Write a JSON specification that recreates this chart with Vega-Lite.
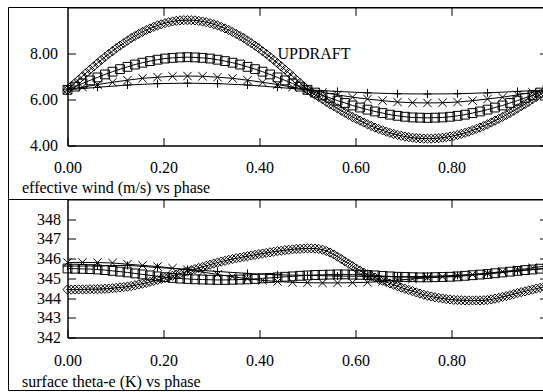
{
"$schema":"https://vega.github.io/schema/vega-lite/v6.json",
"padding":{"left":7.5,"top":6.5,"right":0,"bottom":0},
"background":"white",
"config":{"font":"Liberation Serif","view":{"stroke":"black","strokeWidth":1},
 "axis":{"labelFont":"Liberation Serif","labelFontSize":16,"labelColor":"black","tickColor":"black","domainColor":"black","grid":false,"labelFlush":false,"labelOverlap":false,"titleFont":"Liberation Serif","titleFontSize":16,"titleFontWeight":"normal","titleColor":"black","tickSize":-8,"domainWidth":1,"tickWidth":1}},
"spacing":54,
"bounds":"flush",
"datasets":{
"top":[
{"x":0,"y":6.42,"s":"D"},{"x":0.0078,"y":6.57,"s":"D"},{"x":0.0156,"y":6.72,"s":"D"},{"x":0.0234,"y":6.86,"s":"D"},{"x":0.0313,"y":7.01,"s":"D"},{"x":0.0391,"y":7.16,"s":"D"},{"x":0.0469,"y":7.3,"s":"D"},{"x":0.0547,"y":7.44,"s":"D"},{"x":0.0625,"y":7.58,"s":"D"},{"x":0.0703,"y":7.72,"s":"D"},{"x":0.0781,"y":7.85,"s":"D"},{"x":0.0859,"y":7.98,"s":"D"},{"x":0.0938,"y":8.1,"s":"D"},{"x":0.1016,"y":8.23,"s":"D"},{"x":0.1094,"y":8.34,"s":"D"},{"x":0.1172,"y":8.45,"s":"D"},{"x":0.125,"y":8.56,"s":"D"},{"x":0.1328,"y":8.67,"s":"D"},{"x":0.1406,"y":8.76,"s":"D"},{"x":0.1484,"y":8.85,"s":"D"},{"x":0.1563,"y":8.94,"s":"D"},{"x":0.1641,"y":9.02,"s":"D"},{"x":0.1719,"y":9.09,"s":"D"},{"x":0.1797,"y":9.16,"s":"D"},{"x":0.1875,"y":9.22,"s":"D"},{"x":0.1953,"y":9.27,"s":"D"},{"x":0.2031,"y":9.32,"s":"D"},{"x":0.2109,"y":9.36,"s":"D"},{"x":0.2188,"y":9.39,"s":"D"},{"x":0.2266,"y":9.42,"s":"D"},{"x":0.2344,"y":9.44,"s":"D"},{"x":0.2422,"y":9.45,"s":"D"},{"x":0.25,"y":9.45,"s":"D"},{"x":0.2578,"y":9.45,"s":"D"},{"x":0.2656,"y":9.44,"s":"D"},{"x":0.2734,"y":9.42,"s":"D"},{"x":0.2813,"y":9.39,"s":"D"},{"x":0.2891,"y":9.36,"s":"D"},{"x":0.2969,"y":9.32,"s":"D"},{"x":0.3047,"y":9.27,"s":"D"},{"x":0.3125,"y":9.22,"s":"D"},{"x":0.3203,"y":9.16,"s":"D"},{"x":0.3281,"y":9.09,"s":"D"},{"x":0.3359,"y":9.02,"s":"D"},{"x":0.3438,"y":8.94,"s":"D"},{"x":0.3516,"y":8.85,"s":"D"},{"x":0.3594,"y":8.76,"s":"D"},{"x":0.3672,"y":8.67,"s":"D"},{"x":0.375,"y":8.56,"s":"D"},{"x":0.3828,"y":8.45,"s":"D"},{"x":0.3906,"y":8.34,"s":"D"},{"x":0.3984,"y":8.23,"s":"D"},{"x":0.4063,"y":8.1,"s":"D"},{"x":0.4141,"y":7.98,"s":"D"},{"x":0.4219,"y":7.85,"s":"D"},{"x":0.4297,"y":7.72,"s":"D"},{"x":0.4375,"y":7.58,"s":"D"},{"x":0.4453,"y":7.44,"s":"D"},{"x":0.4531,"y":7.3,"s":"D"},{"x":0.4609,"y":7.16,"s":"D"},{"x":0.4688,"y":7.01,"s":"D"},{"x":0.4766,"y":6.86,"s":"D"},{"x":0.4844,"y":6.72,"s":"D"},{"x":0.4922,"y":6.57,"s":"D"},{"x":0.5,"y":6.42,"s":"D"},
{"x":0.5078,"y":6.32,"s":"D"},{"x":0.5156,"y":6.21,"s":"D"},{"x":0.5234,"y":6.11,"s":"D"},{"x":0.5313,"y":6.01,"s":"D"},{"x":0.5391,"y":5.9,"s":"D"},{"x":0.5469,"y":5.8,"s":"D"},{"x":0.5547,"y":5.71,"s":"D"},{"x":0.5625,"y":5.61,"s":"D"},{"x":0.5703,"y":5.51,"s":"D"},{"x":0.5781,"y":5.42,"s":"D"},{"x":0.5859,"y":5.33,"s":"D"},{"x":0.5938,"y":5.24,"s":"D"},{"x":0.6016,"y":5.16,"s":"D"},{"x":0.6094,"y":5.08,"s":"D"},{"x":0.6172,"y":5,"s":"D"},{"x":0.625,"y":4.92,"s":"D"},{"x":0.6328,"y":4.85,"s":"D"},{"x":0.6406,"y":4.78,"s":"D"},{"x":0.6484,"y":4.72,"s":"D"},{"x":0.6563,"y":4.66,"s":"D"},{"x":0.6641,"y":4.6,"s":"D"},{"x":0.6719,"y":4.55,"s":"D"},{"x":0.6797,"y":4.5,"s":"D"},{"x":0.6875,"y":4.46,"s":"D"},{"x":0.6953,"y":4.42,"s":"D"},{"x":0.7031,"y":4.39,"s":"D"},{"x":0.7109,"y":4.36,"s":"D"},{"x":0.7188,"y":4.34,"s":"D"},{"x":0.7266,"y":4.32,"s":"D"},{"x":0.7344,"y":4.31,"s":"D"},{"x":0.7422,"y":4.3,"s":"D"},{"x":0.75,"y":4.3,"s":"D"},{"x":0.7578,"y":4.3,"s":"D"},{"x":0.7656,"y":4.31,"s":"D"},{"x":0.7734,"y":4.32,"s":"D"},{"x":0.7813,"y":4.34,"s":"D"},{"x":0.7891,"y":4.36,"s":"D"},{"x":0.7969,"y":4.39,"s":"D"},{"x":0.8047,"y":4.42,"s":"D"},{"x":0.8125,"y":4.46,"s":"D"},{"x":0.8203,"y":4.5,"s":"D"},{"x":0.8281,"y":4.55,"s":"D"},{"x":0.8359,"y":4.6,"s":"D"},{"x":0.8438,"y":4.66,"s":"D"},{"x":0.8516,"y":4.72,"s":"D"},{"x":0.8594,"y":4.78,"s":"D"},{"x":0.8672,"y":4.85,"s":"D"},{"x":0.875,"y":4.92,"s":"D"},{"x":0.8828,"y":5,"s":"D"},{"x":0.8906,"y":5.08,"s":"D"},{"x":0.8984,"y":5.16,"s":"D"},{"x":0.9063,"y":5.24,"s":"D"},{"x":0.9141,"y":5.33,"s":"D"},{"x":0.9219,"y":5.42,"s":"D"},{"x":0.9297,"y":5.51,"s":"D"},{"x":0.9375,"y":5.61,"s":"D"},{"x":0.9453,"y":5.71,"s":"D"},{"x":0.9531,"y":5.8,"s":"D"},{"x":0.9609,"y":5.9,"s":"D"},{"x":0.9688,"y":6.01,"s":"D"},{"x":0.9766,"y":6.11,"s":"D"},{"x":0.9844,"y":6.21,"s":"D"},{"x":0.9922,"y":6.32,"s":"D"},{"x":1,"y":6.42,"s":"D"},
{"x":0,"y":6.42,"s":"S"},{"x":0.0156,"y":6.56,"s":"S"},{"x":0.0313,"y":6.7,"s":"S"},{"x":0.0469,"y":6.83,"s":"S"},{"x":0.0625,"y":6.96,"s":"S"},{"x":0.0781,"y":7.09,"s":"S"},{"x":0.0938,"y":7.21,"s":"S"},{"x":0.1094,"y":7.32,"s":"S"},{"x":0.125,"y":7.42,"s":"S"},{"x":0.1406,"y":7.52,"s":"S"},{"x":0.1563,"y":7.6,"s":"S"},{"x":0.1719,"y":7.67,"s":"S"},{"x":0.1875,"y":7.73,"s":"S"},{"x":0.2031,"y":7.78,"s":"S"},{"x":0.2188,"y":7.81,"s":"S"},{"x":0.2344,"y":7.83,"s":"S"},{"x":0.25,"y":7.84,"s":"S"},{"x":0.2656,"y":7.83,"s":"S"},{"x":0.2813,"y":7.81,"s":"S"},{"x":0.2969,"y":7.78,"s":"S"},{"x":0.3125,"y":7.73,"s":"S"},{"x":0.3281,"y":7.67,"s":"S"},{"x":0.3438,"y":7.6,"s":"S"},{"x":0.3594,"y":7.52,"s":"S"},{"x":0.375,"y":7.42,"s":"S"},{"x":0.3906,"y":7.32,"s":"S"},{"x":0.4063,"y":7.21,"s":"S"},{"x":0.4219,"y":7.09,"s":"S"},{"x":0.4375,"y":6.96,"s":"S"},{"x":0.4531,"y":6.83,"s":"S"},{"x":0.4688,"y":6.7,"s":"S"},{"x":0.4844,"y":6.56,"s":"S"},{"x":0.5,"y":6.42,"s":"S"},{"x":0.5156,"y":6.3,"s":"S"},{"x":0.5313,"y":6.18,"s":"S"},{"x":0.5469,"y":6.07,"s":"S"},{"x":0.5625,"y":5.95,"s":"S"},{"x":0.5781,"y":5.85,"s":"S"},{"x":0.5938,"y":5.74,"s":"S"},{"x":0.6094,"y":5.65,"s":"S"},{"x":0.625,"y":5.56,"s":"S"},{"x":0.6406,"y":5.48,"s":"S"},{"x":0.6563,"y":5.41,"s":"S"},{"x":0.6719,"y":5.34,"s":"S"},{"x":0.6875,"y":5.29,"s":"S"},{"x":0.7031,"y":5.25,"s":"S"},{"x":0.7188,"y":5.22,"s":"S"},{"x":0.7344,"y":5.21,"s":"S"},{"x":0.75,"y":5.2,"s":"S"},{"x":0.7656,"y":5.21,"s":"S"},{"x":0.7813,"y":5.22,"s":"S"},{"x":0.7969,"y":5.25,"s":"S"},{"x":0.8125,"y":5.29,"s":"S"},{"x":0.8281,"y":5.34,"s":"S"},{"x":0.8438,"y":5.41,"s":"S"},{"x":0.8594,"y":5.48,"s":"S"},{"x":0.875,"y":5.56,"s":"S"},{"x":0.8906,"y":5.65,"s":"S"},{"x":0.9063,"y":5.74,"s":"S"},{"x":0.9219,"y":5.85,"s":"S"},{"x":0.9375,"y":5.95,"s":"S"},{"x":0.9531,"y":6.07,"s":"S"},{"x":0.9688,"y":6.18,"s":"S"},{"x":0.9844,"y":6.3,"s":"S"},{"x":1,"y":6.42,"s":"S"},
{"x":0,"y":6.42,"s":"X"},{"x":0.0313,"y":6.54,"s":"X"},{"x":0.0625,"y":6.65,"s":"X"},{"x":0.0938,"y":6.75,"s":"X"},{"x":0.125,"y":6.84,"s":"X"},{"x":0.1563,"y":6.92,"s":"X"},{"x":0.1875,"y":6.97,"s":"X"},{"x":0.2188,"y":7.01,"s":"X"},{"x":0.25,"y":7.02,"s":"X"},{"x":0.2813,"y":7.01,"s":"X"},{"x":0.3125,"y":6.97,"s":"X"},{"x":0.3438,"y":6.92,"s":"X"},{"x":0.375,"y":6.84,"s":"X"},{"x":0.4063,"y":6.75,"s":"X"},{"x":0.4375,"y":6.65,"s":"X"},{"x":0.4688,"y":6.54,"s":"X"},{"x":0.5,"y":6.42,"s":"X"},{"x":0.5313,"y":6.31,"s":"X"},{"x":0.5625,"y":6.2,"s":"X"},{"x":0.5938,"y":6.1,"s":"X"},{"x":0.625,"y":6.02,"s":"X"},{"x":0.6563,"y":5.95,"s":"X"},{"x":0.6875,"y":5.89,"s":"X"},{"x":0.7188,"y":5.86,"s":"X"},{"x":0.75,"y":5.85,"s":"X"},{"x":0.7813,"y":5.86,"s":"X"},{"x":0.8125,"y":5.89,"s":"X"},{"x":0.8438,"y":5.95,"s":"X"},{"x":0.875,"y":6.02,"s":"X"},{"x":0.9063,"y":6.1,"s":"X"},{"x":0.9375,"y":6.2,"s":"X"},{"x":0.9688,"y":6.31,"s":"X"},{"x":1,"y":6.42,"s":"X"},
{"x":0,"y":6.42,"s":"P"},{"x":0.0625,"y":6.53,"s":"P"},{"x":0.125,"y":6.63,"s":"P"},{"x":0.1875,"y":6.69,"s":"P"},{"x":0.25,"y":6.71,"s":"P"},{"x":0.3125,"y":6.69,"s":"P"},{"x":0.375,"y":6.63,"s":"P"},{"x":0.4375,"y":6.53,"s":"P"},{"x":0.5,"y":6.42,"s":"P"},{"x":0.5625,"y":6.35,"s":"P"},{"x":0.625,"y":6.29,"s":"P"},{"x":0.6875,"y":6.25,"s":"P"},{"x":0.75,"y":6.24,"s":"P"},{"x":0.8125,"y":6.25,"s":"P"},{"x":0.875,"y":6.29,"s":"P"},{"x":0.9375,"y":6.35,"s":"P"},{"x":1,"y":6.42,"s":"P"}
],
"bot":[
{"x":0,"y":344.43,"s":"D"},{"x":0.0078,"y":344.43,"s":"D"},{"x":0.0156,"y":344.43,"s":"D"},{"x":0.0234,"y":344.44,"s":"D"},{"x":0.0313,"y":344.44,"s":"D"},{"x":0.0391,"y":344.44,"s":"D"},{"x":0.0469,"y":344.45,"s":"D"},{"x":0.0547,"y":344.45,"s":"D"},{"x":0.0625,"y":344.45,"s":"D"},{"x":0.0703,"y":344.46,"s":"D"},{"x":0.0781,"y":344.47,"s":"D"},{"x":0.0859,"y":344.48,"s":"D"},{"x":0.0938,"y":344.5,"s":"D"},{"x":0.1016,"y":344.52,"s":"D"},{"x":0.1094,"y":344.54,"s":"D"},{"x":0.1172,"y":344.56,"s":"D"},{"x":0.125,"y":344.58,"s":"D"},{"x":0.1328,"y":344.61,"s":"D"},{"x":0.1406,"y":344.65,"s":"D"},{"x":0.1484,"y":344.69,"s":"D"},{"x":0.1563,"y":344.73,"s":"D"},{"x":0.1641,"y":344.77,"s":"D"},{"x":0.1719,"y":344.82,"s":"D"},{"x":0.1797,"y":344.87,"s":"D"},{"x":0.1875,"y":344.92,"s":"D"},{"x":0.1953,"y":344.97,"s":"D"},{"x":0.2031,"y":345.02,"s":"D"},{"x":0.2109,"y":345.08,"s":"D"},{"x":0.2188,"y":345.13,"s":"D"},{"x":0.2266,"y":345.19,"s":"D"},{"x":0.2344,"y":345.24,"s":"D"},{"x":0.2422,"y":345.3,"s":"D"},{"x":0.25,"y":345.35,"s":"D"},{"x":0.2578,"y":345.41,"s":"D"},{"x":0.2656,"y":345.47,"s":"D"},{"x":0.2734,"y":345.53,"s":"D"},{"x":0.2813,"y":345.58,"s":"D"},{"x":0.2891,"y":345.64,"s":"D"},{"x":0.2969,"y":345.69,"s":"D"},{"x":0.3047,"y":345.75,"s":"D"},{"x":0.3125,"y":345.8,"s":"D"},{"x":0.3203,"y":345.85,"s":"D"},{"x":0.3281,"y":345.89,"s":"D"},{"x":0.3359,"y":345.94,"s":"D"},{"x":0.3438,"y":345.98,"s":"D"},{"x":0.3516,"y":346.02,"s":"D"},{"x":0.3594,"y":346.05,"s":"D"},{"x":0.3672,"y":346.09,"s":"D"},{"x":0.375,"y":346.12,"s":"D"},{"x":0.3828,"y":346.16,"s":"D"},{"x":0.3906,"y":346.19,"s":"D"},{"x":0.3984,"y":346.23,"s":"D"},{"x":0.4063,"y":346.26,"s":"D"},{"x":0.4141,"y":346.29,"s":"D"},{"x":0.4219,"y":346.32,"s":"D"},{"x":0.4297,"y":346.35,"s":"D"},{"x":0.4375,"y":346.38,"s":"D"},{"x":0.4453,"y":346.4,"s":"D"},{"x":0.4531,"y":346.43,"s":"D"},{"x":0.4609,"y":346.45,"s":"D"},{"x":0.4688,"y":346.47,"s":"D"},{"x":0.4766,"y":346.49,"s":"D"},{"x":0.4844,"y":346.5,"s":"D"},{"x":0.4922,"y":346.51,"s":"D"},{"x":0.5,"y":346.52,"s":"D"},
{"x":0.5078,"y":346.52,"s":"D"},{"x":0.5156,"y":346.51,"s":"D"},{"x":0.5234,"y":346.49,"s":"D"},{"x":0.5313,"y":346.45,"s":"D"},{"x":0.5391,"y":346.39,"s":"D"},{"x":0.5469,"y":346.31,"s":"D"},{"x":0.5547,"y":346.21,"s":"D"},{"x":0.5625,"y":346.1,"s":"D"},{"x":0.5703,"y":345.98,"s":"D"},{"x":0.5781,"y":345.86,"s":"D"},{"x":0.5859,"y":345.74,"s":"D"},{"x":0.5938,"y":345.62,"s":"D"},{"x":0.6016,"y":345.5,"s":"D"},{"x":0.6094,"y":345.39,"s":"D"},{"x":0.6172,"y":345.29,"s":"D"},{"x":0.625,"y":345.2,"s":"D"},{"x":0.6328,"y":345.12,"s":"D"},{"x":0.6406,"y":345.04,"s":"D"},{"x":0.6484,"y":344.96,"s":"D"},{"x":0.6563,"y":344.88,"s":"D"},{"x":0.6641,"y":344.81,"s":"D"},{"x":0.6719,"y":344.74,"s":"D"},{"x":0.6797,"y":344.67,"s":"D"},{"x":0.6875,"y":344.6,"s":"D"},{"x":0.6953,"y":344.53,"s":"D"},{"x":0.7031,"y":344.47,"s":"D"},{"x":0.7109,"y":344.41,"s":"D"},{"x":0.7188,"y":344.35,"s":"D"},{"x":0.7266,"y":344.29,"s":"D"},{"x":0.7344,"y":344.23,"s":"D"},{"x":0.7422,"y":344.17,"s":"D"},{"x":0.75,"y":344.12,"s":"D"},{"x":0.7578,"y":344.08,"s":"D"},{"x":0.7656,"y":344.04,"s":"D"},{"x":0.7734,"y":344.01,"s":"D"},{"x":0.7813,"y":343.98,"s":"D"},{"x":0.7891,"y":343.95,"s":"D"},{"x":0.7969,"y":343.93,"s":"D"},{"x":0.8047,"y":343.91,"s":"D"},{"x":0.8125,"y":343.9,"s":"D"},{"x":0.8203,"y":343.89,"s":"D"},{"x":0.8281,"y":343.88,"s":"D"},{"x":0.8359,"y":343.88,"s":"D"},{"x":0.8438,"y":343.88,"s":"D"},{"x":0.8516,"y":343.88,"s":"D"},{"x":0.8594,"y":343.88,"s":"D"},{"x":0.8672,"y":343.89,"s":"D"},{"x":0.875,"y":343.9,"s":"D"},{"x":0.8828,"y":343.93,"s":"D"},{"x":0.8906,"y":343.97,"s":"D"},{"x":0.8984,"y":344.01,"s":"D"},{"x":0.9063,"y":344.06,"s":"D"},{"x":0.9141,"y":344.1,"s":"D"},{"x":0.9219,"y":344.15,"s":"D"},{"x":0.9297,"y":344.2,"s":"D"},{"x":0.9375,"y":344.25,"s":"D"},{"x":0.9453,"y":344.3,"s":"D"},{"x":0.9531,"y":344.34,"s":"D"},{"x":0.9609,"y":344.39,"s":"D"},{"x":0.9688,"y":344.43,"s":"D"},{"x":0.9766,"y":344.48,"s":"D"},{"x":0.9844,"y":344.52,"s":"D"},{"x":0.9922,"y":344.56,"s":"D"},{"x":1,"y":344.6,"s":"D"},
{"x":0,"y":345.5,"s":"S"},{"x":0.0156,"y":345.49,"s":"S"},{"x":0.0313,"y":345.48,"s":"S"},{"x":0.0469,"y":345.47,"s":"S"},{"x":0.0625,"y":345.45,"s":"S"},{"x":0.0781,"y":345.42,"s":"S"},{"x":0.0938,"y":345.38,"s":"S"},{"x":0.1094,"y":345.34,"s":"S"},{"x":0.125,"y":345.3,"s":"S"},{"x":0.1406,"y":345.25,"s":"S"},{"x":0.1563,"y":345.2,"s":"S"},{"x":0.1719,"y":345.15,"s":"S"},{"x":0.1875,"y":345.1,"s":"S"},{"x":0.2031,"y":345.06,"s":"S"},{"x":0.2188,"y":345.02,"s":"S"},{"x":0.2344,"y":344.99,"s":"S"},{"x":0.25,"y":344.97,"s":"S"},{"x":0.2656,"y":344.95,"s":"S"},{"x":0.2813,"y":344.94,"s":"S"},{"x":0.2969,"y":344.93,"s":"S"},{"x":0.3125,"y":344.92,"s":"S"},{"x":0.3281,"y":344.92,"s":"S"},{"x":0.3438,"y":344.93,"s":"S"},{"x":0.3594,"y":344.94,"s":"S"},{"x":0.375,"y":344.95,"s":"S"},{"x":0.3906,"y":344.97,"s":"S"},{"x":0.4063,"y":345,"s":"S"},{"x":0.4219,"y":345.02,"s":"S"},{"x":0.4375,"y":345.05,"s":"S"},{"x":0.4531,"y":345.08,"s":"S"},{"x":0.4688,"y":345.1,"s":"S"},{"x":0.4844,"y":345.13,"s":"S"},{"x":0.5,"y":345.15,"s":"S"},{"x":0.5156,"y":345.17,"s":"S"},{"x":0.5313,"y":345.18,"s":"S"},{"x":0.5469,"y":345.19,"s":"S"},{"x":0.5625,"y":345.2,"s":"S"},{"x":0.5781,"y":345.2,"s":"S"},{"x":0.5938,"y":345.19,"s":"S"},{"x":0.6094,"y":345.18,"s":"S"},{"x":0.625,"y":345.17,"s":"S"},{"x":0.6406,"y":345.15,"s":"S"},{"x":0.6563,"y":345.12,"s":"S"},{"x":0.6719,"y":345.1,"s":"S"},{"x":0.6875,"y":345.08,"s":"S"},{"x":0.7031,"y":345.07,"s":"S"},{"x":0.7188,"y":345.06,"s":"S"},{"x":0.7344,"y":345.05,"s":"S"},{"x":0.75,"y":345.05,"s":"S"},{"x":0.7656,"y":345.06,"s":"S"},{"x":0.7813,"y":345.07,"s":"S"},{"x":0.7969,"y":345.08,"s":"S"},{"x":0.8125,"y":345.1,"s":"S"},{"x":0.8281,"y":345.13,"s":"S"},{"x":0.8438,"y":345.16,"s":"S"},{"x":0.8594,"y":345.19,"s":"S"},{"x":0.875,"y":345.22,"s":"S"},{"x":0.8906,"y":345.26,"s":"S"},{"x":0.9063,"y":345.3,"s":"S"},{"x":0.9219,"y":345.34,"s":"S"},{"x":0.9375,"y":345.38,"s":"S"},{"x":0.9531,"y":345.42,"s":"S"},{"x":0.9688,"y":345.45,"s":"S"},{"x":0.9844,"y":345.49,"s":"S"},{"x":1,"y":345.52,"s":"S"},
{"x":0,"y":345.8,"s":"X"},{"x":0.0313,"y":345.81,"s":"X"},{"x":0.0625,"y":345.8,"s":"X"},{"x":0.0938,"y":345.78,"s":"X"},{"x":0.125,"y":345.72,"s":"X"},{"x":0.1563,"y":345.66,"s":"X"},{"x":0.1875,"y":345.6,"s":"X"},{"x":0.2188,"y":345.52,"s":"X"},{"x":0.25,"y":345.43,"s":"X"},{"x":0.2813,"y":345.32,"s":"X"},{"x":0.3125,"y":345.2,"s":"X"},{"x":0.3438,"y":345.08,"s":"X"},{"x":0.375,"y":344.98,"s":"X"},{"x":0.4063,"y":344.9,"s":"X"},{"x":0.4375,"y":344.84,"s":"X"},{"x":0.4688,"y":344.8,"s":"X"},{"x":0.5,"y":344.78,"s":"X"},{"x":0.5313,"y":344.77,"s":"X"},{"x":0.5625,"y":344.77,"s":"X"},{"x":0.5938,"y":344.78,"s":"X"},{"x":0.625,"y":344.8,"s":"X"},{"x":0.6563,"y":344.85,"s":"X"},{"x":0.6875,"y":344.91,"s":"X"},{"x":0.7188,"y":344.97,"s":"X"},{"x":0.75,"y":345.03,"s":"X"},{"x":0.7813,"y":345.08,"s":"X"},{"x":0.8125,"y":345.13,"s":"X"},{"x":0.8438,"y":345.19,"s":"X"},{"x":0.875,"y":345.26,"s":"X"},{"x":0.9063,"y":345.34,"s":"X"},{"x":0.9375,"y":345.43,"s":"X"},{"x":0.9688,"y":345.53,"s":"X"},{"x":1,"y":345.65,"s":"X"},
{"x":0,"y":345.62,"s":"P"},{"x":0.0625,"y":345.63,"s":"P"},{"x":0.125,"y":345.66,"s":"P"},{"x":0.1875,"y":345.55,"s":"P"},{"x":0.25,"y":345.45,"s":"P"},{"x":0.3125,"y":345.35,"s":"P"},{"x":0.375,"y":345.25,"s":"P"},{"x":0.4375,"y":345.18,"s":"P"},{"x":0.5,"y":345.15,"s":"P"},{"x":0.5625,"y":345.12,"s":"P"},{"x":0.625,"y":345.1,"s":"P"},{"x":0.6875,"y":345.08,"s":"P"},{"x":0.75,"y":345.1,"s":"P"},{"x":0.8125,"y":345.15,"s":"P"},{"x":0.875,"y":345.25,"s":"P"},{"x":0.9375,"y":345.38,"s":"P"},{"x":1,"y":345.5,"s":"P"}
]},
"vconcat":[
{"width":480,"height":138,
 "resolve":{"axis":{"x":"independent","y":"independent"}},
 "layer":[
  {"data":{"values":[{}]},
   "mark":{"type":"rect","fill":"transparent","stroke":"black","strokeWidth":1,"clip":false},
   "encoding":{"x":{"datum":-0.1229,"type":"quantitative","scale":{"domain":[0,1],"nice":false,"zero":false},"axis":null},"x2":{"datum":1},
   "y":{"datum":10,"type":"quantitative","scale":{"domain":[4,10],"nice":false,"zero":false},"axis":null},"y2":{"datum":1.652}}},
  {"data":{"name":"top"},
   "mark":{"type":"line","stroke":"black","strokeWidth":1},
   "encoding":{"x":{"field":"x","type":"quantitative","scale":{"domain":[0,1],"nice":false,"zero":false},
     "axis":{"orient":"bottom","values":[0,0.2,0.4,0.6,0.8],"format":".2f","labelPadding":22,"title":"effective wind (m/s) vs phase","titleAnchor":"start","titleAlign":"left","titleBaseline":"alphabetic","titleX":-46,"titleY":47}},
    "y":{"field":"y","type":"quantitative","scale":{"domain":[4,10],"nice":false,"zero":false},
     "axis":{"orient":"left","values":[4,6,8],"format":".2f","labelPadding":18,"title":null}},
    "detail":{"field":"s"}}},
  {"data":{"name":"top"},
   "mark":{"type":"point","filled":false,"stroke":"black","strokeWidth":1,"opacity":1},
   "encoding":{"x":{"field":"x","type":"quantitative","axis":{"orient":"top","values":[0.2,0.4,0.6,0.8],"labels":false,"domain":false,"title":null}},
    "y":{"field":"y","type":"quantitative","axis":{"orient":"right","values":[4,6,8],"labels":false,"domain":false,"title":null}},
    "shape":{"field":"s","type":"nominal","scale":{"domain":["D","S","X","P"],"range":["diamond","square","M-1,-1L1,1M-1,1L1,-1","M-1,0L1,0M0,-1L0,1"]},"legend":null},
    "size":{"field":"s","type":"nominal","scale":{"domain":["D","S","X","P"],"range":[85,64,81,100]},"legend":null}}},
  {"data":{"values":[{"x":0.4375,"y":7.96,"t":"UPDRAFT"}]},
   "mark":{"type":"text","align":"left","baseline":"middle","fontSize":16,"font":"Liberation Serif","color":"black"},
   "encoding":{"x":{"field":"x","type":"quantitative","axis":null},"y":{"field":"y","type":"quantitative","axis":null},"text":{"field":"t"}}}
 ]},
{"width":480,"height":138,
 "resolve":{"axis":{"x":"independent","y":"independent"}},
 "layer":[
  {"data":{"values":[{}]},
   "mark":{"type":"rect","fill":"transparent","stroke":"black","strokeWidth":1,"clip":false},
   "encoding":{"x":{"datum":-0.1229,"type":"quantitative","scale":{"domain":[0,1],"nice":false,"zero":false},"axis":null},"x2":{"datum":1},
   "y":{"datum":349,"type":"quantitative","scale":{"domain":[342,349],"nice":false,"zero":false},"axis":null},"y2":{"datum":339.312}}},
  {"data":{"name":"bot"},
   "mark":{"type":"line","stroke":"black","strokeWidth":1},
   "encoding":{"x":{"field":"x","type":"quantitative","scale":{"domain":[0,1],"nice":false,"zero":false},
     "axis":{"orient":"bottom","values":[0,0.2,0.4,0.6,0.8],"format":".2f","labelPadding":23,"title":"surface theta-e (K) vs phase","titleAnchor":"start","titleAlign":"left","titleBaseline":"alphabetic","titleX":-46,"titleY":49}},
    "y":{"field":"y","type":"quantitative","scale":{"domain":[342,349],"nice":false,"zero":false},
     "axis":{"orient":"left","values":[342,343,344,345,346,347,348],"format":"d","labelPadding":15,"title":null}},
    "detail":{"field":"s"}}},
  {"data":{"name":"bot"},
   "mark":{"type":"point","filled":false,"stroke":"black","strokeWidth":1,"opacity":1},
   "encoding":{"x":{"field":"x","type":"quantitative","axis":{"orient":"top","values":[0.2,0.4,0.6,0.8],"labels":false,"domain":false,"title":null}},
    "y":{"field":"y","type":"quantitative","axis":{"orient":"right","values":[342,343,344,345,346,347,348],"labels":false,"domain":false,"title":null}},
    "shape":{"field":"s","type":"nominal","scale":{"domain":["D","S","X","P"],"range":["diamond","square","M-1,-1L1,1M-1,1L1,-1","M-1,0L1,0M0,-1L0,1"]},"legend":null},
    "size":{"field":"s","type":"nominal","scale":{"domain":["D","S","X","P"],"range":[85,64,81,100]},"legend":null}}}
 ]}
]}
